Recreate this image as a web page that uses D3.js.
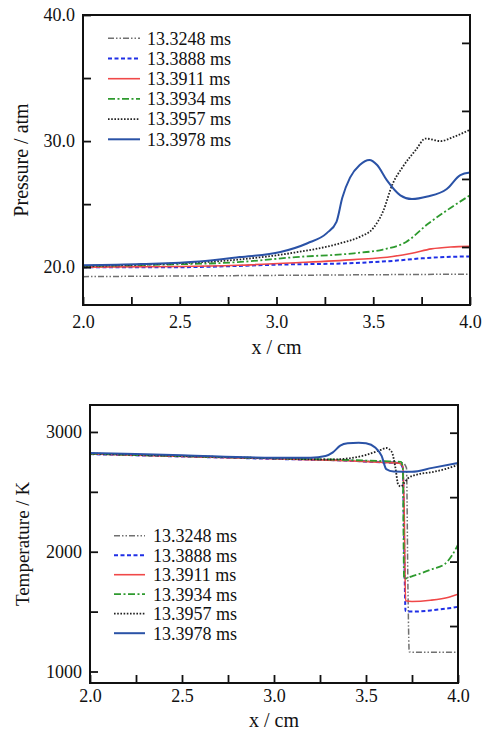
<!DOCTYPE html>
<html><head><meta charset="utf-8">
<script src="https://cdn.jsdelivr.net/npm/d3@7"></script>
<style>body{margin:0;background:#fff}svg text{font-family:"Liberation Serif","Times New Roman",serif;fill:#111}</style>
</head><body><svg id="c" width="483" height="734"></svg>
<script>
// ---------- data ----------
const seriesLabels = ["13.3248 ms","13.3888 ms","13.3911 ms","13.3934 ms","13.3957 ms","13.3978 ms"];
const seriesColors = ["#707070","#1f2fe6","#f04848","#2e9a2e","#222222","#2a52a6"];
const seriesDash   = ["6,2,1.5,2,1.5,2","4,2.5","none","7,2.5,2,2.5","1.6,1.6","none"];
const seriesWidth  = [1.5,2,1.6,1.8,1.8,2];

const xMajor = [2.0,2.5,3.0,3.5,4.0];
const xMinor = [2.25,2.75,3.25,3.75];
const pMajor = [20,30,40];
const pMinor = [25,35];
const pRight = [1,2,3,4];
const tMajor = [1000,2000,3000];
const tMinor = [1500,2500];
const tRight = [1,2,3,4];

// Pressure (atm) vs x (cm)
const p0x = [2.0,2.5,3.0,3.5,4.0];
const p0v = [19.25,19.3,19.35,19.4,19.45];
const p1x = [2.0,2.5,2.8,3.0,3.35,3.6,3.75,3.9,4.0];
const p1v = [20.0,20.0,20.1,20.2,20.3,20.5,20.7,20.82,20.85];
const p2x = [2.0,2.5,2.8,3.1,3.4,3.6,3.7,3.8,3.9,4.0];
const p2v = [20.0,20.05,20.15,20.35,20.6,20.85,21.1,21.45,21.6,21.65];
const p3x = [2.0,2.4,2.8,3.1,3.4,3.55,3.67,3.78,3.88,4.0];
const p3v = [20.1,20.2,20.4,20.8,21.1,21.4,22.0,23.4,24.5,25.7];
const p4x = [2.0,2.4,2.8,3.07,3.33,3.43,3.5,3.55,3.6,3.65,3.72,3.77,3.85,3.91,4.0];
const p4v = [20.1,20.25,20.6,21.1,21.9,22.4,23.1,24.4,26.6,27.9,29.3,30.2,30.0,30.3,30.9];
const p5x = [2.0,2.3,2.6,2.81,3.02,3.16,3.26,3.31,3.34,3.38,3.43,3.48,3.52,3.57,3.64,3.70,3.78,3.88,3.95,4.0];
const p5v = [20.15,20.25,20.45,20.8,21.2,21.9,22.7,23.6,25.5,27.1,28.1,28.5,28.1,26.9,25.7,25.4,25.6,26.2,27.3,27.5];

// Temperature (K) vs x (cm)
const t0x = [2.0,2.5,3.0,3.4,3.6,3.7,3.72,3.728,3.735,3.76,4.0];
const t0v = [2818,2798,2778,2763,2750,2742,2700,1700,1165,1160,1160];
const t1x = [2.0,2.5,3.0,3.4,3.6,3.68,3.7,3.708,3.715,3.75,3.85,3.95,4.0];
const t1v = [2815,2795,2775,2760,2745,2740,2700,2000,1505,1500,1510,1528,1540];
const t2x = [2.0,2.5,3.0,3.4,3.6,3.68,3.7,3.708,3.715,3.75,3.85,3.95,4.0];
const t2v = [2816,2796,2776,2760,2745,2740,2715,2300,1590,1585,1595,1620,1645];
const t3x = [2.0,2.5,3.0,3.4,3.6,3.69,3.70,3.707,3.75,3.8,3.86,3.93,3.97,4.0];
const t3v = [2818,2798,2780,2766,2756,2750,2700,1775,1795,1820,1855,1900,1975,2060];
const t4x = [2.0,2.5,3.0,3.3,3.41,3.5,3.58,3.61,3.64,3.66,3.675,3.69,3.71,3.73,3.78,3.86,3.93,4.0];
const t4v = [2820,2800,2780,2770,2780,2808,2850,2866,2833,2700,2560,2545,2580,2615,2645,2665,2690,2725];
const t5x = [2.0,2.5,3.0,3.2,3.28,3.32,3.36,3.4,3.46,3.5,3.55,3.585,3.61,3.65,3.75,3.86,4.0];
const t5v = [2825,2805,2785,2785,2800,2830,2885,2905,2910,2905,2870,2800,2690,2670,2668,2700,2740];

const pressureSeries = [[p0x,p0v],[p1x,p1v],[p2x,p2v],[p3x,p3v],[p4x,p4v],[p5x,p5v]];
const tempSeries = [[t0x,t0v],[t1x,t1v],[t2x,t2v],[t3x,t3v],[t4x,t4v],[t5x,t5v]];

// ---------- drawing ----------
const svg = d3.select("#c");

function panel(cfg){
  const {L,R,T,B} = cfg;
  const g = svg.append("g");
  const x = d3.scaleLinear().domain([2,4]).range([L,R]);
  const y = d3.scaleLinear().domain(cfg.yDom).range([B,T]);
  const yr = d3.scaleLinear().domain(cfg.yrDom).range([B,T]);
  const clipId = "clip"+cfg.id;
  svg.append("clipPath").attr("id",clipId).append("rect")
    .attr("x",L).attr("y",T).attr("width",R-L).attr("height",B-T);

  // lines
  const line = d3.line().x(d=>x(d[0])).y(d=>y(d[1])).curve(d3.curveMonotoneX);
  const lg = g.append("g").attr("clip-path",`url(#${clipId})`);
  // draw order: gray, blue dashed, red, green, black, dark blue
  cfg.series.forEach((s,i)=>{
    const pts = s[0].map((xv,k)=>[xv,s[1][k]]);
    lg.append("path").attr("d",line(pts)).attr("fill","none")
      .attr("stroke",seriesColors[i]).attr("stroke-width",seriesWidth[i])
      .attr("stroke-dasharray",seriesDash[i]==="none"?null:seriesDash[i]);
  });

  // axes
  const tickStyle = sel=>{sel.select(".domain").remove();
    sel.selectAll(".tick line").attr("stroke","#111").attr("stroke-width",1.8);
    sel.selectAll(".tick text").style("font-size","18px").attr("fill","#111");};
  g.append("g").attr("transform",`translate(0,${B})`)
    .call(d3.axisBottom(x).tickValues(xMajor).tickFormat(d3.format(".1f")).tickSize(-8).tickPadding(cfg.xPad))
    .call(tickStyle);
  g.append("g").attr("transform",`translate(0,${B})`)
    .call(d3.axisBottom(x).tickValues(xMinor).tickFormat("").tickSize(-8)).call(tickStyle);
  g.append("g").attr("transform",`translate(${L},0)`)
    .call(d3.axisLeft(y).tickValues(cfg.yMajor).tickFormat(cfg.yFmt).tickSize(-8).tickPadding(8))
    .call(tickStyle);
  g.append("g").attr("transform",`translate(${L},0)`)
    .call(d3.axisLeft(y).tickValues(cfg.yMinor).tickFormat("").tickSize(-8)).call(tickStyle);
  g.append("g").attr("transform",`translate(${R},0)`)
    .call(d3.axisRight(yr).tickValues(cfg.yRight).tickFormat("").tickSize(-8)).call(tickStyle);
  g.selectAll(".tick text").attr("font-family","Liberation Serif");

  // frame
  g.append("rect").attr("x",L).attr("y",T).attr("width",R-L).attr("height",B-T)
    .attr("fill","none").attr("stroke","#111").attr("stroke-width",2);

  // titles
  g.append("text").attr("x",(L+R)/2).attr("y",cfg.xTitleY).attr("text-anchor","middle")
    .style("font-size","20px").text("x / cm");
  g.append("text").attr("transform",`translate(${cfg.yTitleX},${(T+B)/2}) rotate(-90)`)
    .attr("text-anchor","middle").style("font-size",cfg.yTitleSize).text(cfg.yTitle);

  // legend
  const leg = g.append("g");
  seriesLabels.forEach((lab,i)=>{
    const yy = cfg.legY + i*cfg.legDy;
    leg.append("line").attr("x1",cfg.legX1).attr("x2",cfg.legX2).attr("y1",yy).attr("y2",yy)
      .attr("stroke",seriesColors[i]).attr("stroke-width",seriesWidth[i])
      .attr("stroke-dasharray",seriesDash[i]==="none"?null:seriesDash[i]);
    leg.append("text").attr("x",cfg.legTx).attr("y",yy).attr("dy","0.35em")
      .style("font-size","18px").text(lab);
  });
}

panel({id:"p",L:83,R:470,T:15,B:305,yDom:[17,40],yrDom:[0.147,4.41],
  yMajor:pMajor,yMinor:pMinor,yRight:pRight,yFmt:d3.format(".1f"),
  series:pressureSeries,xPad:10,xTitleY:354,yTitleX:28,yTitle:"Pressure / atm",yTitleSize:"20px",
  legY:38.3,legDy:20.2,legX1:108,legX2:140,legTx:147});

panel({id:"t",L:90,R:458,T:405,B:683,yDom:[904,3225],yrDom:[0.116,4.43],
  yMajor:tMajor,yMinor:tMinor,yRight:tRight,yFmt:d3.format("d"),
  series:tempSeries,xPad:6,xTitleY:727,yTitleX:29,yTitle:"Temperature / K",yTitleSize:"19px",
  legY:535.7,legDy:19.5,legX1:114,legX2:145,legTx:153});
</script></body></html>
